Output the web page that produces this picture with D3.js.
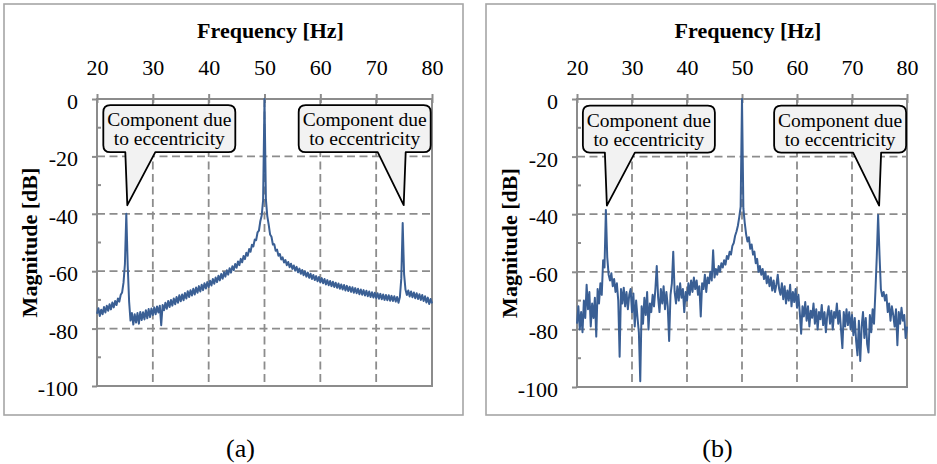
<!DOCTYPE html>
<html>
<head>
<meta charset="utf-8">
<script src="https://cdn.jsdelivr.net/npm/d3@7"></script>
<style>
  body { margin: 0; background: #fff; }
  text { font-family: "Liberation Serif", "Times New Roman", serif; }
</style>
</head>
<body>
<svg id="chart" width="937" height="464"></svg>
<script>
// spectra sampled every 0.25 Hz from 20 Hz to 80 Hz
const freqStart = 20;
const freqStep = 0.25;

// (a) magnitude [dB]
const magA = [
  -74.8, -72.9, -75.6, -73.4, -75.0, -72.5, -74.4, -72.0,
  -73.8, -71.5, -73.3, -70.9, -72.6, -70.4, -71.8, -69.5,
  -70.6, -68.2, -67.4, -64.0, -57.5, -40.0, -58.0, -70.5,
  -77.2, -74.6, -78.6, -75.0, -77.9, -74.6, -78.3, -74.2,
  -77.0, -74.3, -76.8, -73.6, -76.4, -73.2, -76.0, -73.0,
  -75.3, -72.6, -75.0, -72.3, -74.4, -72.0, -78.8, -71.8,
  -73.6, -71.0, -73.1, -70.4, -72.5, -70.0, -72.0, -69.5,
  -71.5, -69.0, -71.0, -68.4, -70.5, -68.1, -70.1, -67.6,
  -69.5, -67.0, -69.0, -66.6, -68.5, -66.1, -68.1, -65.7,
  -67.5, -65.2, -67.1, -64.7, -66.6, -64.2, -66.0, -63.8,
  -65.5, -63.3, -65.0, -62.7, -64.4, -62.2, -63.8, -61.6,
  -63.2, -61.0, -62.6, -60.4, -61.9, -59.7, -61.2, -59.0,
  -60.5, -58.3, -59.6, -57.5, -58.8, -56.6, -57.9, -55.7,
  -56.9, -54.7, -55.8, -53.6, -54.6, -52.3, -53.2, -50.8,
  -51.4, -49.0, -49.2, -46.5, -45.9, -42.6, -40.6, -35.2,
  0, -35.0, -40.8, -43.8, -47.2, -48.0, -50.7, -50.6,
  -52.9, -52.5, -54.6, -54.0, -55.9, -55.2, -57.0, -56.1,
  -57.9, -56.8, -58.6, -57.4, -59.2, -58.0, -59.8, -58.5,
  -60.4, -59.1, -60.9, -59.6, -61.4, -60.0, -61.9, -60.5,
  -62.3, -60.9, -62.7, -61.3, -63.1, -61.7, -63.5, -62.0,
  -63.9, -62.4, -64.2, -62.7, -64.6, -63.1, -64.9, -63.4,
  -65.2, -63.7, -65.5, -64.0, -65.8, -64.3, -66.1, -64.6,
  -66.4, -64.8, -66.7, -65.1, -66.9, -65.4, -67.2, -65.6,
  -67.5, -65.9, -67.7, -66.1, -68.0, -66.4, -68.2, -66.6,
  -68.5, -66.8, -68.7, -67.1, -69.0, -67.3, -69.2, -67.5,
  -69.4, -67.7, -69.6, -67.9, -69.8, -68.1, -70.0, -68.3,
  -70.1, -68.4, -70.3, -68.6, -70.4, -68.7, -70.6, -69.0,
  -71.0, -69.0, -62.5, -43.2, -61.0, -66.4, -68.3, -66.7,
  -68.8, -67.1, -69.1, -67.4, -69.4, -67.7, -69.7, -68.0,
  -70.0, -68.3, -70.4, -68.7, -70.9, -69.2, -71.4, -69.7,
  -71.2
];

// (b) magnitude [dB]
const magB = [
  -78, -72, -80, -74, -81, -70, -76, -64.5,
  -73, -67, -79, -71, -76, -69, -82.5, -66,
  -71, -64, -68, -56, -58.5, -38.5, -55, -61,
  -63, -60.5, -65, -62.5, -67, -64, -70, -89.5,
  -66, -71, -65.5, -72, -67, -73, -68, -66,
  -74, -67.5, -79, -70, -76, -81, -98, -72,
  -78, -69, -75, -67, -80, -71, -74, -68,
  -72, -66, -58, -69, -74, -66, -71, -65,
  -73, -67, -72, -84, -68, -64, -53, -67,
  -71, -65, -70, -64, -69, -66, -74, -67,
  -70, -64, -68, -63, -67, -62, -66, -63,
  -68, -65, -75.5, -64, -66, -61, -67, -62,
  -64, -60, -63, -52.5, -62, -59, -61, -58,
  -60, -57, -58.5, -56, -57.5, -54.5, -55.5, -53,
  -54, -51, -50, -47.5, -46, -44, -41, -37.5,
  0, -38, -43, -47, -49.5, -48, -52, -50.5,
  -54, -53, -57, -55.5, -60, -58, -61, -59,
  -62.5, -60, -64, -61.5, -65, -62, -66.5, -63,
  -67, -64.5, -61, -66, -68, -64, -69.5, -65,
  -71, -66.5, -70, -64.5, -72, -67, -70.5, -66,
  -72.5, -68, -74, -81.5, -72, -75.5, -70.5, -77,
  -72, -79, -73.5, -76, -71, -78, -73, -80,
  -74, -76.5, -71.5, -78.5, -74, -81, -75, -72,
  -78, -73.5, -80, -74, -76, -71, -78, -73.5,
  -80, -86.5, -74, -79, -73, -78.5, -74, -80,
  -75, -82, -76, -84, -89, -77, -91, -79,
  -74, -83, -76, -85, -88, -75, -81, -73,
  -78, -67, -55, -40.3, -54, -66, -68.5, -67,
  -70, -68, -74, -71, -77, -72, -75, -79,
  -73, -85.5, -74, -78, -72.5, -77, -75, -83,
  -79
];

const xTicks = [20, 30, 40, 50, 60, 70, 80];
const yTicks = [0, -20, -40, -60, -80, -100];
const yMinorTicks = [-10, -30, -50, -70, -90];
const calloutText = ['Component due', 'to eccentricity'];
// callout tips in data units; side = where the box sits relative to the tip
const callouts = [
  { f: 25.25, db: -37, side: 'right' },
  { f: 74.75, db: -37, side: 'left' },
];

const lineColor = '#3a5f94';
const gridColor = '#8c8c8c';

const svg = d3.select('#chart');

const panels = [
  { mags: magA, label: '(a)', frame: [4, 4, 463, 415], plot: [97, 99, 432, 386] },
  { mags: magB, label: '(b)', frame: [486, 4, 935, 415], plot: [577, 99, 907, 387] },
];

const calloutPath = (tx, ty, side) => {
  const r = 7;
  const x0 = side === 'right' ? tx - 24 : tx - 105;
  const x1 = x0 + 132;
  const y0 = ty - 100;
  const y1 = ty - 53;
  const t0 = side === 'right' ? tx - 2 : tx - 26;
  const t1 = side === 'right' ? tx + 28 : tx + 2;
  const p = d3.path();
  p.moveTo(x0 + r, y0);
  p.lineTo(x1 - r, y0);
  p.quadraticCurveTo(x1, y0, x1, y0 + r);
  p.lineTo(x1, y1 - r);
  p.quadraticCurveTo(x1, y1, x1 - r, y1);
  p.lineTo(t1, y1);
  p.lineTo(tx, ty);
  p.lineTo(t0, y1);
  p.lineTo(x0 + r, y1);
  p.quadraticCurveTo(x0, y1, x0, y1 - r);
  p.lineTo(x0, y0 + r);
  p.quadraticCurveTo(x0, y0, x0 + r, y0);
  p.closePath();
  return { d: p.toString(), cx: (x0 + x1) / 2, top: y0 };
};

const drawPanel = ({ mags, label, frame, plot }) => {
  const [left, top, right, bottom] = plot;
  const x = d3.scaleLinear().domain([20, 80]).range([left, right]);
  const y = d3.scaleLinear().domain([0, -100]).range([top, bottom]);
  const g = svg.append('g');

  // outer frame
  g.append('rect')
    .attr('x', frame[0]).attr('y', frame[1])
    .attr('width', frame[2] - frame[0]).attr('height', frame[3] - frame[1])
    .attr('fill', 'none')
    .attr('stroke', '#a6a6a6')
    .attr('stroke-width', 1.6);

  // dashed grid
  g.append('g')
    .selectAll('line')
    .data(yTicks.filter((d) => d !== 0 && d !== -100))
    .join('line')
    .attr('x1', left).attr('x2', right)
    .attr('y1', (d) => y(d)).attr('y2', (d) => y(d));
  g.append('g')
    .selectAll('line')
    .data(xTicks.filter((d) => d !== 20 && d !== 80))
    .join('line')
    .attr('x1', (d) => x(d)).attr('x2', (d) => x(d))
    .attr('y1', top).attr('y2', bottom);
  g.selectAll('g line')
    .attr('stroke', gridColor)
    .attr('stroke-width', 1.8)
    .attr('stroke-dasharray', '8,4.5');

  // plot border
  g.append('rect')
    .attr('x', left).attr('y', top)
    .attr('width', right - left).attr('height', bottom - top)
    .attr('fill', 'none')
    .attr('stroke', gridColor)
    .attr('stroke-width', 2);

  // top axis
  const xAxis = g.append('g')
    .attr('transform', `translate(0,${top})`)
    .call(d3.axisTop(x).tickValues(xTicks).tickSize(5).tickSizeOuter(0)
      .tickFormat((d) => `${d}`));
  xAxis.select('.domain').remove();
  xAxis.selectAll('line').attr('y1', 4).attr('stroke', gridColor).attr('stroke-width', 2);
  xAxis.selectAll('text')
    .attr('y', -24)
    .attr('dy', 0)
    .attr('fill', '#000')
    .style('font-size', '22px');

  // left axis
  const yAxis = g.append('g')
    .attr('transform', `translate(${left},0)`)
    .call(d3.axisLeft(y).tickValues(yTicks).tickSize(5).tickSizeOuter(0)
      .tickFormat((d) => `${d}`));
  yAxis.select('.domain').remove();
  yAxis.selectAll('line').attr('stroke', gridColor).attr('stroke-width', 2);
  yAxis.selectAll('text')
    .attr('x', -19)
    .attr('dy', '0.43em')
    .attr('fill', '#000')
    .style('font-size', '22px');
  g.append('g')
    .selectAll('line')
    .data(yMinorTicks)
    .join('line')
    .attr('x1', left).attr('x2', left + 4)
    .attr('y1', (d) => y(d)).attr('y2', (d) => y(d))
    .attr('stroke', gridColor)
    .attr('stroke-width', 2);

  // titles
  g.append('text')
    .attr('x', (left + right) / 2 + 6)
    .attr('y', 38)
    .attr('text-anchor', 'middle')
    .style('font-size', '22px')
    .style('font-weight', 'bold')
    .text('Frequency [Hz]');
  g.append('text')
    .attr('transform', `translate(${left - 60},${(top + bottom) / 2}) rotate(-90)`)
    .attr('text-anchor', 'middle')
    .style('font-size', '22px')
    .style('font-weight', 'bold')
    .text('Magnitude [dB]');

  // spectrum
  const line = d3.line()
    .x((d, i) => x(freqStart + i * freqStep))
    .y((d) => y(d));
  g.append('path')
    .datum(mags)
    .attr('d', line)
    .attr('fill', 'none')
    .attr('stroke', lineColor)
    .attr('stroke-width', 2)
    .attr('stroke-linejoin', 'round');

  // callouts
  callouts.forEach((c) => {
    const shape = calloutPath(x(c.f) + 1, y(c.db), c.side);
    g.append('path')
      .attr('d', shape.d)
      .attr('fill', '#f2f2f2')
      .attr('stroke', '#000')
      .attr('stroke-width', 1.8)
      .attr('stroke-linejoin', 'round');
    g.append('text')
      .attr('text-anchor', 'middle')
      .style('font-size', '19.5px')
      .selectAll('tspan')
      .data(calloutText)
      .join('tspan')
      .attr('x', shape.cx)
      .attr('y', (d, i) => shape.top + 21 + i * 19)
      .text((d) => d);
  });

  // panel caption
  svg.append('text')
    .attr('x', (frame[0] + frame[2]) / 2 + 7)
    .attr('y', 457)
    .attr('text-anchor', 'middle')
    .style('font-size', '26px')
    .text(label);
};

panels.forEach(drawPanel);
</script>
</body>
</html>
